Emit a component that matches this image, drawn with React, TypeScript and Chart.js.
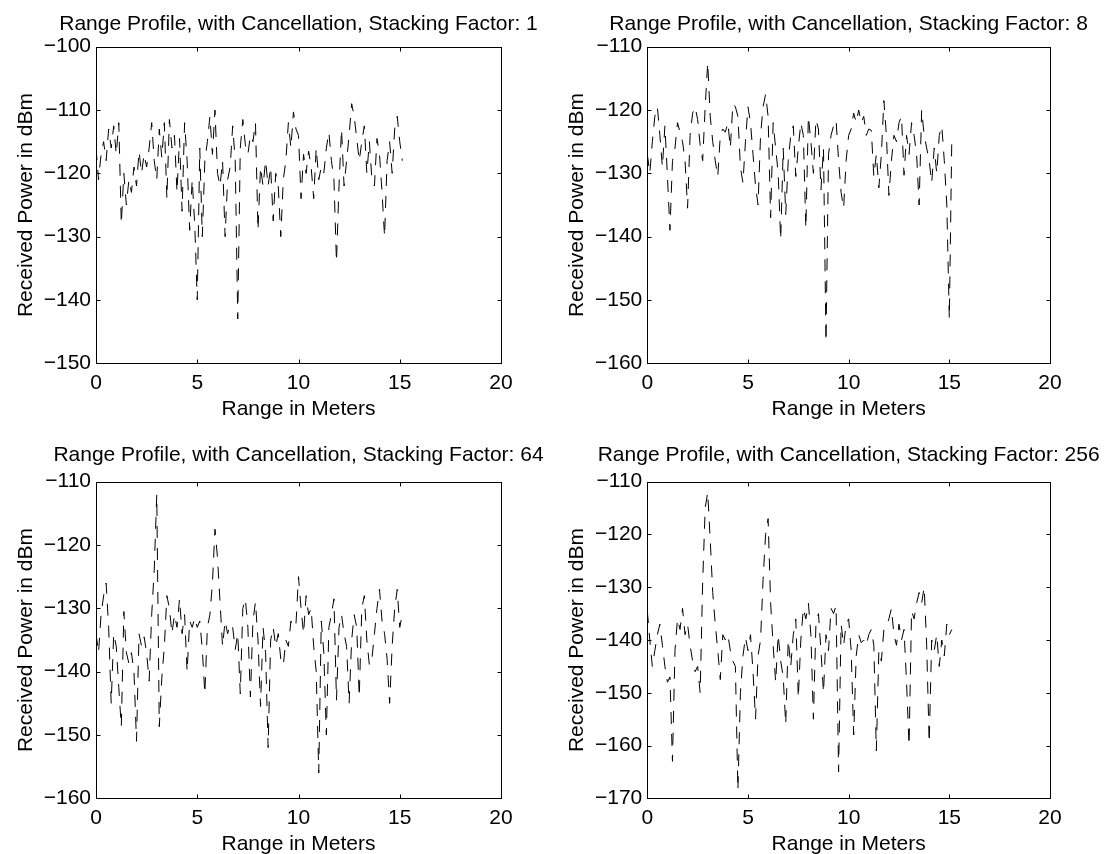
import React, { useEffect, useRef } from 'react';
import { Chart, registerables } from 'chart.js';

Chart.register(...registerables);

const FONT = "'Liberation Sans', Arial, Helvetica, sans-serif";

// Range bins (meters)
const rangeMeters = [
  0, 0.125, 0.25, 0.375, 0.5, 0.625, 0.75, 0.875,
  1, 1.125, 1.25, 1.375, 1.5, 1.625, 1.75, 1.875,
  2, 2.125, 2.25, 2.375, 2.5, 2.625, 2.75, 2.875,
  3, 3.125, 3.25, 3.375, 3.5, 3.625, 3.75, 3.875,
  4, 4.125, 4.25, 4.375, 4.5, 4.625, 4.75, 4.875,
  5, 5.125, 5.25, 5.375, 5.5, 5.625, 5.75, 5.875,
  6, 6.125, 6.25, 6.375, 6.5, 6.625, 6.75, 6.875,
  7, 7.125, 7.25, 7.375, 7.5, 7.625, 7.75, 7.875,
  8, 8.125, 8.25, 8.375, 8.5, 8.625, 8.75, 8.875,
  9, 9.125, 9.25, 9.375, 9.5, 9.625, 9.75, 9.875,
  10, 10.125, 10.25, 10.375, 10.5, 10.625, 10.75, 10.875,
  11, 11.125, 11.25, 11.375, 11.5, 11.625, 11.75, 11.875,
  12, 12.125, 12.25, 12.375, 12.5, 12.625, 12.75, 12.875,
  13, 13.125, 13.25, 13.375, 13.5, 13.625, 13.75, 13.875,
  14, 14.125, 14.25, 14.375, 14.5, 14.625, 14.75, 14.875,
  15, 15.125,
];

// Received power (dBm), stacking factor 1
const powerStack1 = [
  -116, -121, -117, -115, -118, -113, -116, -112.5,
  -117, -112, -128, -120, -125, -121, -123, -119,
  -122, -116.5, -120, -117, -119, -116, -112, -118,
  -121, -113, -117.5, -112, -124, -111.5, -116, -114,
  -123, -114.5, -126, -112, -118, -129, -121, -128,
  -140, -116, -130, -118, -115, -111, -117, -110,
  -120, -122, -118, -130, -121, -119, -112.5, -118,
  -143, -116, -111.5, -115.5, -117, -114, -115, -112,
  -129, -119, -122, -118, -122, -119, -127.5, -120,
  -122, -130, -121, -118, -112, -116, -110.3, -113,
  -114, -124, -117, -120, -116.5, -119, -124, -116,
  -121, -119, -120, -116, -113.5, -118, -121, -134,
  -122, -113, -122, -118, -114, -109, -111, -114.5,
  -118, -115, -112.5, -120, -115, -121, -122, -114.5,
  -117, -123, -130, -118, -115, -120, -113, -111,
  -115, -118,
];

// Stacking factor 8
const powerStack8 = [
  -127, -130, -125, -121, -119.5, -124, -129, -122.5,
  -130.5, -139, -128, -126, -122, -123.5, -125, -128,
  -135.5, -124, -120.5, -119.5, -121.5, -125.5, -128, -119.5,
  -112.5, -121, -125, -128, -130.5, -124, -123, -123.5,
  -122, -126, -119, -119.5, -121, -129, -131.5, -125,
  -119.5, -122, -127, -132, -135, -124, -119.5, -117.5,
  -121, -137, -122, -126, -130, -140.5, -126, -136.5,
  -128, -124, -122.5, -130.5, -126, -122, -124, -138.7,
  -121, -125, -130, -121.5, -123, -132.6, -126, -156.6,
  -127, -124, -122.5, -121.6, -128, -133, -135.5, -128,
  -124, -123, -120.5, -122, -120, -122, -121, -124,
  -123, -123.2, -130.5, -127, -132.3, -127, -118.5, -124,
  -133.5, -128, -124, -125, -122, -121, -130.3, -124,
  -127, -122, -124, -127, -135, -120, -124, -126,
  -128, -131.5, -126, -130, -124, -122.5, -128, -135,
  -153, -124,
];

// Stacking factor 64
const powerStack64 = [
  -134, -137, -131, -128, -126, -133, -145, -134,
  -136, -142.5, -148.7, -130.5, -137, -138.7, -137, -140,
  -151, -134, -136, -134.5, -137, -141.5, -131, -124,
  -112, -148.7, -141, -136, -128, -130, -134, -131,
  -133, -128.5, -134, -131, -140, -132, -133, -131.5,
  -133, -132, -136.5, -143.5, -133, -131, -126, -117.5,
  -122, -129, -136, -132, -134, -132.5, -133, -136.5,
  -134, -143.5, -130, -128.5, -133, -144, -132, -129,
  -135, -145.5, -133, -137, -152, -135, -133, -136,
  -134, -138, -139, -135, -136, -132, -133, -132.5,
  -125, -130, -134, -128, -131, -130, -136, -140,
  -156, -132, -137, -150, -133, -131, -128.5, -144.5,
  -133, -131, -134, -136, -145, -135, -131, -133,
  -144, -130, -128, -135, -139, -138, -134, -130,
  -127, -132, -134, -138, -145, -136, -130, -127,
  -133, -131,
];

// Stacking factor 256
const powerStack256 = [
  -134.5, -140, -145, -142, -139, -137, -141, -145,
  -148, -147, -163, -142, -136, -138, -134, -139,
  -137, -141, -144, -146, -145, -150, -129, -115,
  -112, -121, -131, -137, -142, -147.5, -139, -140,
  -139, -142, -144, -145, -168.5, -150, -143, -139.5,
  -142, -139, -146, -155, -143, -140, -128.5, -120,
  -117, -133, -141, -148, -139, -144, -147, -156,
  -140, -145, -139, -136, -151, -140, -134, -136,
  -133, -139, -155, -137, -135, -142, -150, -139,
  -142, -134, -135, -133.5, -165, -137, -141, -137,
  -136, -142, -158, -143, -139, -140.5, -140, -141,
  -139, -138, -141, -161, -142, -144, -138, -137.5,
  -136, -134, -139, -141, -137, -140, -138, -148,
  -160, -134.5, -136, -133, -131, -133, -130, -141,
  -159.5, -140, -142, -139, -145, -140, -143, -137,
  -139, -138,
];

const xTickValues = [0, 5, 10, 15, 20];
const stackingFactors = [1, 8, 64, 256];
const yRanges: [number, number][] = [
  [-150, -100],
  [-160, -110],
  [-160, -110],
  [-170, -110],
];

const TITLE_PREFIX = 'Range Profile, with Cancellation, Stacking Factor: ';
const X_LABEL = 'Range in Meters';
const Y_LABEL = 'Received Power in dBm';

const CW = 553;
const CH = 427;

type Geo = {
  left: number; top: number;
  pl: number; pt: number; pr: number; pb: number;
  titleY: number; yLabelX: number; xLabelY: number;
};

const geos: Geo[] = [
  { left: 0, top: 0, pl: 96, pt: 46.7, pr: 501, pb: 363.3, titleY: 24.5, yLabelX: 26.7, xLabelY: 409 },
  { left: 553, top: 0, pl: 94.3, pt: 46.7, pr: 497, pb: 363.3, titleY: 24.5, yLabelX: 24.7, xLabelY: 409 },
  { left: 0, top: 427, pl: 96, pt: 54.7, pr: 501, pb: 371.3, titleY: 28.5, yLabelX: 26.7, xLabelY: 417 },
  { left: 553, top: 427, pl: 94.3, pt: 54.7, pr: 497, pb: 371.3, titleY: 28.5, yLabelX: 24.7, xLabelY: 417 },
];

const seriesList = [powerStack1, powerStack8, powerStack64, powerStack256];

const fmt = (v: number) => (v < 0 ? '\u2212' + Math.abs(v) : String(v));

// Centre the title over the axes box (as MATLAB does) instead of the whole canvas.
const centerTitlePlugin = {
  id: 'centerTitle',
  afterLayout(chart: any) {
    const tb = chart.titleBlock;
    const a = chart.chartArea;
    if (!tb || !a) return;
    const cx = (a.left + a.right) / 2;
    const half = 275;
    tb.left = cx - half;
    tb.right = cx + half;
    tb.width = 2 * half;
  },
};

const framePlugin = {
  id: 'matlabFrame',
  afterDraw(chart: any) {
    const { ctx, chartArea: a, scales } = chart;
    const L = 4;
    const r = (v: number) => Math.round(v) + 0.5;
    ctx.save();
    ctx.setLineDash([]);
    ctx.strokeStyle = '#000';
    ctx.lineWidth = 1;
    const l = r(a.left), t = r(a.top), rr = r(a.right), b = r(a.bottom);
    ctx.strokeRect(l, t, rr - l, b - t);
    ctx.beginPath();
    for (const v of xTickValues) {
      const px = r(scales.x.getPixelForValue(v));
      ctx.moveTo(px, b); ctx.lineTo(px, b - L);
      ctx.moveTo(px, t); ctx.lineTo(px, t + L);
    }
    for (const tk of scales.y.ticks) {
      const py = r(scales.y.getPixelForValue(tk.value));
      ctx.moveTo(l, py); ctx.lineTo(l + L, py);
      ctx.moveTo(rr, py); ctx.lineTo(rr - L, py);
    }
    ctx.stroke();
    ctx.restore();
  },
};

function Panel({ idx }: { idx: number }) {
  const ref = useRef<HTMLCanvasElement | null>(null);
  const g = geos[idx];
  useEffect(() => {
    if (!ref.current) return;
    const values = seriesList[idx];
    const [yMin, yMax] = yRanges[idx];
    const titleTop = g.titleY - 10.5;
    const chart = new Chart(ref.current, {
      type: 'line',
      data: {
        datasets: [
          {
            data: rangeMeters.map((x, i) => ({ x, y: values[i] })),
            borderColor: '#000',
            borderWidth: 1,
            borderDash: [12, 10],
            pointRadius: 0,
            fill: false,
            tension: 0,
          },
        ],
      },
      options: {
        animation: false,
        responsive: false,
        devicePixelRatio: 1,
        events: [],
        layout: { padding: { left: 0, top: 0, right: CW - g.pr, bottom: 0 } },
        plugins: {
          legend: { display: false },
          tooltip: { enabled: false },
          title: {
            display: true,
            text: TITLE_PREFIX + stackingFactors[idx],
            color: '#000',
            font: { family: FONT, size: 21, weight: 'normal', lineHeight: 1 },
            padding: { top: titleTop, bottom: g.pt - 21 - titleTop },
          },
        },
        scales: {
          x: {
            type: 'linear',
            min: 0,
            max: 20,
            grid: { display: false, drawTicks: false },
            border: { display: false },
            ticks: {
              stepSize: 5,
              padding: 9.5,
              color: '#000',
              maxRotation: 0,
              font: { family: FONT, size: 21, lineHeight: 1 },
              callback: (v: any) => fmt(Number(v)),
            },
            title: {
              display: true,
              text: X_LABEL,
              color: '#000',
              font: { family: FONT, size: 21, lineHeight: 1 },
              padding: { top: 0, bottom: CH - g.xLabelY - 10.5 },
            },
            afterFit: (s: any) => { s.height = CH - g.pb; },
          },
          y: {
            type: 'linear',
            min: yMin,
            max: yMax,
            grid: { display: false, drawTicks: false },
            border: { display: false },
            ticks: {
              stepSize: 10,
              padding: 5,
              color: '#000',
              font: { family: FONT, size: 21, lineHeight: 1 },
              callback: (v: any) => fmt(Number(v)),
            },
            title: {
              display: true,
              text: Y_LABEL,
              color: '#000',
              font: { family: FONT, size: 21, lineHeight: 1 },
              padding: { top: g.yLabelX - 10.5, bottom: 0 },
            },
            afterFit: (s: any) => { s.width = g.pl; },
          },
        },
      } as any,
      plugins: [centerTitlePlugin, framePlugin],
    });
    return () => chart.destroy();
  }, [idx]);
  return (
    <canvas
      ref={ref}
      width={CW}
      height={CH}
      style={{ position: 'absolute', left: g.left, top: g.top, width: CW, height: CH }}
    />
  );
}

export default function App() {
  return (
    <div style={{ position: 'absolute', left: 0, top: 0, width: 1106, height: 854, background: '#fff' }}>
      {[0, 1, 2, 3].map((i) => (
        <Panel key={i} idx={i} />
      ))}
    </div>
  );
}
